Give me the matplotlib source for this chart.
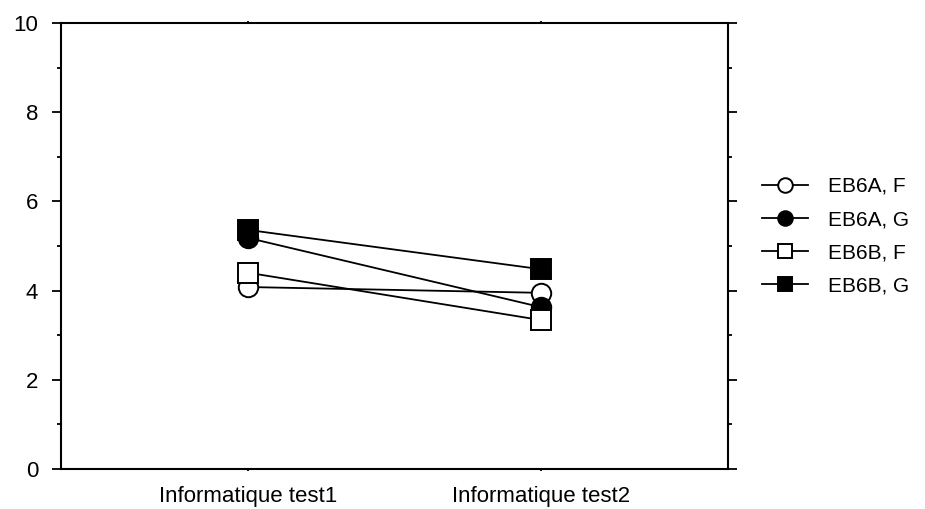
import matplotlib
matplotlib.use('Agg')
import matplotlib.pyplot as plt
import numpy as np

plt.rcParams['font.family'] = ['Liberation Sans', 'DejaVu Sans']

# categories and group means
tests = ['Informatique test1', 'Informatique test2']
eb6a_f = [4.08, 3.95]
eb6a_g = [5.18, 3.63]
eb6b_f = [4.40, 3.34]
eb6b_g = [5.36, 4.48]

series = [
    ('EB6A, F', eb6a_f, 'o', 'white'),
    ('EB6A, G', eb6a_g, 'o', 'black'),
    ('EB6B, F', eb6b_f, 's', 'white'),
    ('EB6B, G', eb6b_g, 's', 'black'),
]

fig = plt.figure(figsize=(9.25, 5.09), dpi=100)
ax = fig.add_axes([0.066, 0.0786, 0.721, 0.8762])

x = np.arange(len(tests))
for label, vals, mk, face in series:
    ax.plot(x, vals, color='black', lw=1.3, marker=mk, markersize=14,
            markerfacecolor=face, markeredgecolor='black', markeredgewidth=1.4,
            label=label)

ax.set_xlim(-0.64, 1.64)
ax.set_ylim(0, 10)
ax.set_xticks(x)
ax.set_xticklabels(tests)
ax.set_yticks([0, 2, 4, 6, 8, 10])
ax.set_yticks([1, 3, 5, 7, 9], minor=True)

for sp in ax.spines.values():
    sp.set_linewidth(1.5)

ax.tick_params(axis='y', which='major', direction='out', length=6.5, width=1.3,
               labelsize=16, pad=10, left=True, right=True)
ax.tick_params(axis='y', which='minor', direction='out', length=3, width=1.3,
               left=True, right=True)
ax.tick_params(axis='x', which='major', direction='out', length=1.5, width=1.3,
               labelsize=16, pad=11, top=True, bottom=True)

fig.legend(loc='center left', bbox_to_anchor=(0.804, 0.536), frameon=False,
           fontsize=15, markerscale=0.75, handlelength=2.2, handletextpad=0.95,
           labelspacing=0.68)

fig.savefig('out.png', dpi=100)
